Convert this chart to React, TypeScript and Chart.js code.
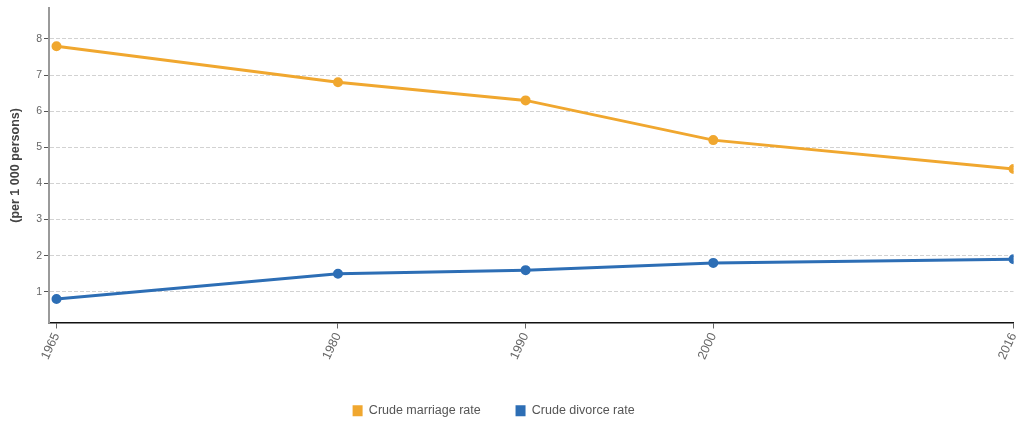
import React, { useEffect, useRef } from "react";
import { Chart, registerables } from "chart.js";

Chart.register(...registerables);

const years = [1965, 1980, 1990, 2000, 2016];
const marriageRate = [7.8, 6.8, 6.3, 5.2, 4.4];
const divorceRate = [0.8, 1.5, 1.6, 1.8, 1.9];
const yTicks = [1, 2, 3, 4, 5, 6, 7, 8];
const seriesNames = ["Crude marriage rate", "Crude divorce rate"];
const yTitle = "(per 1 000 persons)";

const FONT = "'Liberation Sans', Arial, sans-serif";

export default function App() {
  const ref = useRef<HTMLCanvasElement | null>(null);

  useEffect(() => {
    if (!ref.current) return;
    const defaultLabels = Chart.defaults.plugins.legend.labels.generateLabels;
    const chart = new Chart(ref.current, {
      type: "line",
      data: {
        datasets: [
          {
            label: seriesNames[0],
            data: years.map((x, i) => ({ x, y: marriageRate[i] })),
            borderColor: "#F0A72F",
            backgroundColor: "#F0A72F",
            borderWidth: 3,
            pointRadius: 3.5,
            pointHoverRadius: 3.5,
            tension: 0,
          },
          {
            label: seriesNames[1],
            data: years.map((x, i) => ({ x, y: divorceRate[i] })),
            borderColor: "#2D6EB5",
            backgroundColor: "#2D6EB5",
            borderWidth: 3,
            pointRadius: 3.5,
            pointHoverRadius: 3.5,
            tension: 0,
          },
        ],
      },
      options: {
        animation: false,
        responsive: false,
        maintainAspectRatio: false,
        layout: { padding: { top: 8, right: 5, left: 0, bottom: 0 } },
        plugins: {
          tooltip: { enabled: false },
          legend: {
            position: "bottom",
            align: "center",
            labels: {
              boxWidth: 10,
              boxHeight: 11,
              padding: 14,
              color: "#555",
              font: { family: FONT, size: 12.5 },
              generateLabels: (c: any) => {
                const items = defaultLabels(c);
                items.forEach((it: any, i: number) => {
                  it.text = i === 0 ? it.text + "      " : it.text + "        ";
                  it.lineWidth = 0;
                });
                return items;
              },
            },
          },
        },
        scales: {
          x: {
            type: "linear",
            min: 1964.6,
            max: 2016,
            afterBuildTicks: (s: any) => {
              s.ticks = years.map((v) => ({ value: v }));
            },
            afterFit: (s: any) => {
              s.height = 68;
              s.paddingRight = 0;
              s.paddingLeft = 0;
            },
            ticks: {
              minRotation: 65,
              maxRotation: 65,
              color: "#666",
              font: { family: FONT, size: 12.5 },
              callback: (v: any) => String(v),
              padding: 2,
            },
            grid: {
              drawOnChartArea: false,
              drawTicks: true,
              tickLength: 6,
              tickColor: "#666",
              tickWidth: 1,
            },
            border: { display: true, color: "#111", width: 1.5 },
          },
          y: {
            type: "linear",
            min: 0.15,
            max: 8.85,
            afterBuildTicks: (s: any) => {
              s.ticks = yTicks.map((v) => ({ value: v }));
            },
            afterFit: (s: any) => {
              s.width = 49;
            },
            ticks: {
              color: "#666",
              font: { family: FONT, size: 10.5 },
              padding: 2,
            },
            grid: {
              color: "#d2d2d2",
              tickBorderDash: [],
              tickColor: "#555",
              tickLength: 5,
              lineWidth: 1,
            },
            border: { display: true, color: "#9a9a9a", width: 2, dash: [4, 2] },
            title: {
              display: true,
              text: yTitle,
              color: "#444",
              font: { family: FONT, size: 12.5, weight: "bold" },
              padding: { top: 8, bottom: 0 },
            },
          },
        },
      },
    });
    return () => chart.destroy();
  }, []);

  return (
    <div style={{ position: "fixed", left: 0, top: 0, width: 1020, height: 427, background: "#fff" }}>
      <canvas ref={ref} width={1020} height={427} style={{ width: 1020, height: 427 }} />
    </div>
  );
}
